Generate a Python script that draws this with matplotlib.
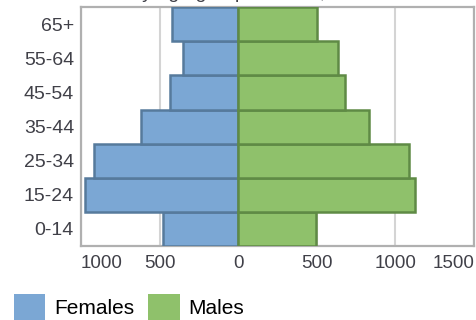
import matplotlib.pyplot as plt
from matplotlib.patches import Patch

plt.rcParams['font.family'] = ['Liberation Sans', 'DejaVu Sans']

age_groups = ['0-14', '15-24', '25-34', '35-44', '45-54', '55-64', '65+']
females = [475, 977, 920, 617, 435, 350, 422]
males = [496, 1122, 1086, 832, 679, 637, 503]
ticks = [-1000, -500, 0, 500, 1000, 1500]
tick_labels = ['1000', '500', '0', '500', '1000', '1500']

f_fill, f_edge = '#7ba7d4', '#567a9c'
m_fill, m_edge = '#8fc16b', '#5f8a45'
txt = '#404048'

fig = plt.figure(figsize=(4.76, 3.2), dpi=100)
ax = fig.add_axes([0.170, 0.232, 0.826, 0.745])

ypos = range(len(age_groups))
ax.barh(ypos, [-v for v in females], height=1.0, color=f_fill,
        edgecolor=f_edge, linewidth=1.8, zorder=3)
ax.barh(ypos, males, height=1.0, color=m_fill,
        edgecolor=m_edge, linewidth=1.8, zorder=3)

ax.set_xlim(-1000, 1500)
ax.set_ylim(-0.5, len(age_groups) - 0.5)
ax.set_yticks(list(ypos))
ax.set_yticklabels(age_groups, fontsize=14, color=txt)
ax.set_xticks(ticks)
ax.set_xticklabels(tick_labels, fontsize=13.5, color=txt)
labels = ax.get_xticklabels()
labels[0].set_ha('left')
labels[-1].set_ha('right')
ax.tick_params(length=0)
ax.tick_params(axis='x', pad=7)
ax.tick_params(axis='y', pad=5)
ax.grid(axis='x', color='#d4d4d4', linewidth=1.5, zorder=0)
for s in ax.spines.values():
    s.set_color('#b0b0b0')
    s.set_linewidth(1.6)

# title sits mostly above the top edge
fig.text(30 / 476, 1 + 2 / 320, 'Inhabitants by age group and sex, 2011',
         ha='left', va='baseline', fontsize=14, color=txt)

handles = [Patch(facecolor=f_fill, edgecolor='none', label='Females'),
           Patch(facecolor=m_fill, edgecolor='none', label='Males')]
fig.legend(handles=handles, loc='upper left',
           bbox_to_anchor=(14 / 476, 26 / 320),
           ncol=2, frameon=False, fontsize=15, handlelength=1.5,
           handleheight=1.6, handletextpad=0.43, columnspacing=0.67,
           borderpad=0, borderaxespad=0)

fig.savefig('out.png', dpi=100)
